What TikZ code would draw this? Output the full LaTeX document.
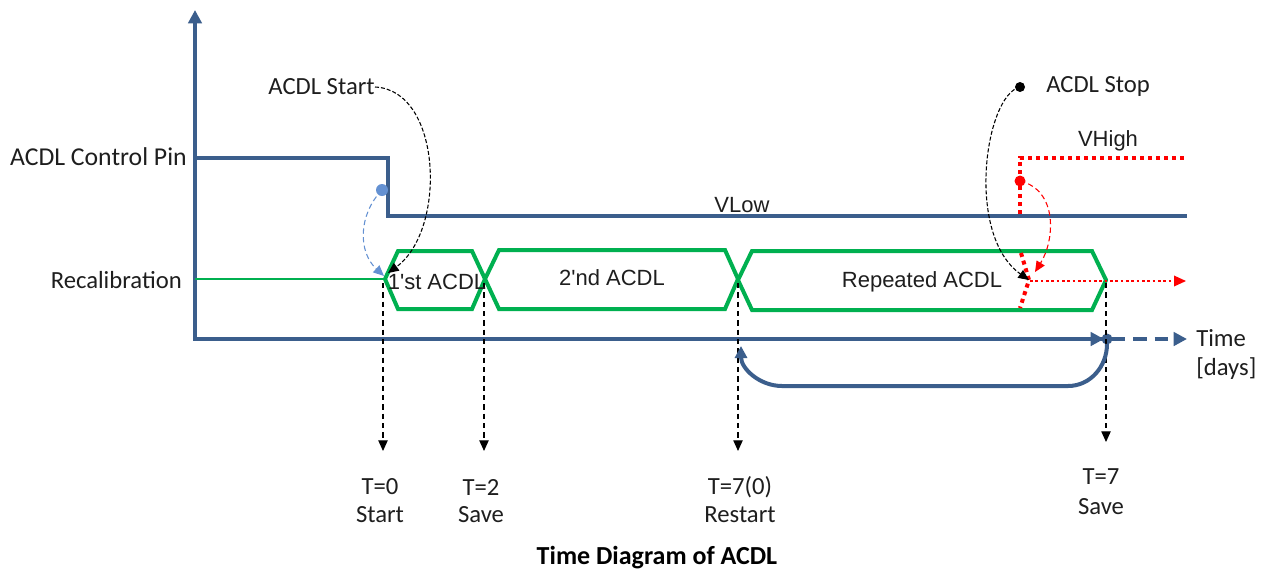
\documentclass[tikz,border=0pt]{standalone}
\usepackage{fontspec}
\setmainfont{Carlito}
\newfontfamily\arialf{Liberation Sans}
\usetikzlibrary{arrows.meta}
\definecolor{axblue}{RGB}{59,94,140}
\definecolor{sigreen}{RGB}{0,176,80}
\definecolor{ltblue}{RGB}{100,145,210}
\definecolor{txt}{RGB}{30,30,30}
\tikzset{
  lbl/.style={font=\fontsize{18.5}{22}\selectfont, text=txt, inner sep=0pt},
  alb/.style={font=\arialf\fontsize{16.5}{20}\selectfont, text=txt, inner sep=0pt},
  captiontext/.style={font=\bfseries\fontsize{19.5}{22}\selectfont, text=black, inner sep=0pt},
  axisline/.style={draw=axblue, line width=3pt},
  hexa/.style={draw=sigreen, line width=3pt, line join=miter},
  bigtip/.style={-{Triangle[length=10pt,width=10pt]}},
  marker/.style={black, dash pattern=on 4pt off 3pt, line width=0.9pt, -{Triangle[length=8pt,width=7pt]}},
  curvearrow/.style={dash pattern=on 3pt off 1.5pt, line width=0.8pt, -{Triangle[length=8pt,width=7pt]}},
  reddots/.style={red, line width=3pt, dash pattern=on 3pt off 3pt},
}
\begin{document}
\begin{tikzpicture}[x=0.75pt,y=-0.75pt]
\useasboundingbox (0,0) rectangle (1269,572);

% coordinates
\coordinate (origin) at (195,339);
\coordinate (ytop) at (195,10);
\coordinate (xend) at (1104,339);
\coordinate (tdot) at (1107,339);
\coordinate (tend) at (1187,339);
\coordinate (pinstart) at (195,158);
\coordinate (pindrop) at (388,158);
\coordinate (pinlow) at (388,216);
\coordinate (pinend) at (1187,216);

% axes
\draw[axisline, bigtip] (xend) -- (origin) -- (ytop);
\draw[axisline, -{Triangle[length=10pt,width=10pt]}] (1080,339) -- (xend);
\draw[axisline, dash pattern=on 10pt off 6pt, bigtip] (1112,339) -- (tend);
\fill[axblue] (tdot) circle (5.5);

% control pin
\draw[axisline] (pinstart) -- (pindrop) -- (pinlow) -- (pinend);

% recalibration line
\draw[sigreen, line width=1.2pt] (195,279) -- (385,279);

% hexagons
\draw[hexa] (385,279) -- (398,251) -- (472,251) -- (485,279) -- (472,309) -- (398,309) -- cycle;
\draw[hexa] (485,279) -- (499,250) -- (725,250) -- (738,279) -- (725,309) -- (499,309) -- cycle;
\draw[hexa] (738,280) -- (752,251) -- (1092,251) -- (1106,280) -- (1092,310) -- (752,310) -- cycle;

% red VHigh
\draw[reddots] (1020,214) -- (1020,158) -- (1187,158);
\draw[reddots] (1021,253) -- (1029,280) -- (1020,308);
\draw[red, line width=1pt, dash pattern=on 2pt off 2pt, -{Triangle[length=9pt,width=8pt]}] (1030,281) -- (1186,281);
\fill[red] (1020,181) coordinate (reddot) circle (5.5);
\draw[red, curvearrow, dash pattern=on 4pt off 2.5pt] (reddot) .. controls (1058,190) and (1055,240) .. (1035,272);

% ACDL stop curve
\fill[black] (1020,87) coordinate (stopdot) circle (5);
\draw[black, curvearrow] (stopdot) .. controls (985,95) and (965,235) .. (1029,280);

% ACDL start curve
\node[lbl, anchor=east] (start) at (375,87) {ACDL Start};
\draw[black, curvearrow] (start.east) .. controls (442,90) and (447,230) .. (388,273);

% blue dashed curve
\fill[ltblue] (382,190) coordinate (bluedot) circle (6);
\draw[ltblue, curvearrow, dash pattern=on 4pt off 2.5pt] (bluedot) .. controls (358,215) and (358,252) .. (384,276);

% vertical markers
\draw[marker] (383,283) -- (383,451);
\draw[marker] (484,283) -- (484,451);
\draw[marker] (738,283) -- (738,451);
\draw[marker] (1106,283) -- (1106,442);

% return arrow
\draw[axisline, -{Triangle[length=9pt,width=9pt]}] (1107,344) to[out=-90,in=0] (1068,386) -- (782,386) to[out=180,in=-90] (741,346);

% labels
\node[lbl, font=\fontsize{19.3}{22}\selectfont, anchor=east] (pinlbl) at (187,157) {ACDL Control Pin};
\node[lbl, anchor=east] (reclbl) at (182,280) {Recalibration};
\node[lbl, anchor=west] (stoplbl) at (1046,86) {ACDL Stop};
\node[alb] (vlow) at (742,205) {VLow};
\node[alb] (vhigh) at (1108,141) {VHigh};
\node[alb] (first) at (437,282) {1'st ACDL};
\node[alb] (second) at (612,278) {2'nd ACDL};
\node[alb] (rep) at (922,282) {Repeated ACDL};
\node[lbl, anchor=west] (timelbl) at (1196,338) {Time};
\node[lbl, anchor=west] (dayslbl) at (1196,369) {[days]};
\node[lbl] (t0) at (380,487) {T=0};
\node[lbl] (t0b) at (380,515) {Start};
\node[lbl] (t2) at (481,487) {T=2};
\node[lbl] (t2b) at (481,515) {Save};
\node[lbl] (t7r) at (740,487) {T=7(0)};
\node[lbl] (t7rb) at (740,515) {Restart};
\node[lbl] (t7) at (1101,477) {T=7};
\node[lbl] (t7b) at (1101,507) {Save};
\node[captiontext, anchor=base] (caption) at (657,564) {Time Diagram of ACDL};
\end{tikzpicture}
\end{document}
